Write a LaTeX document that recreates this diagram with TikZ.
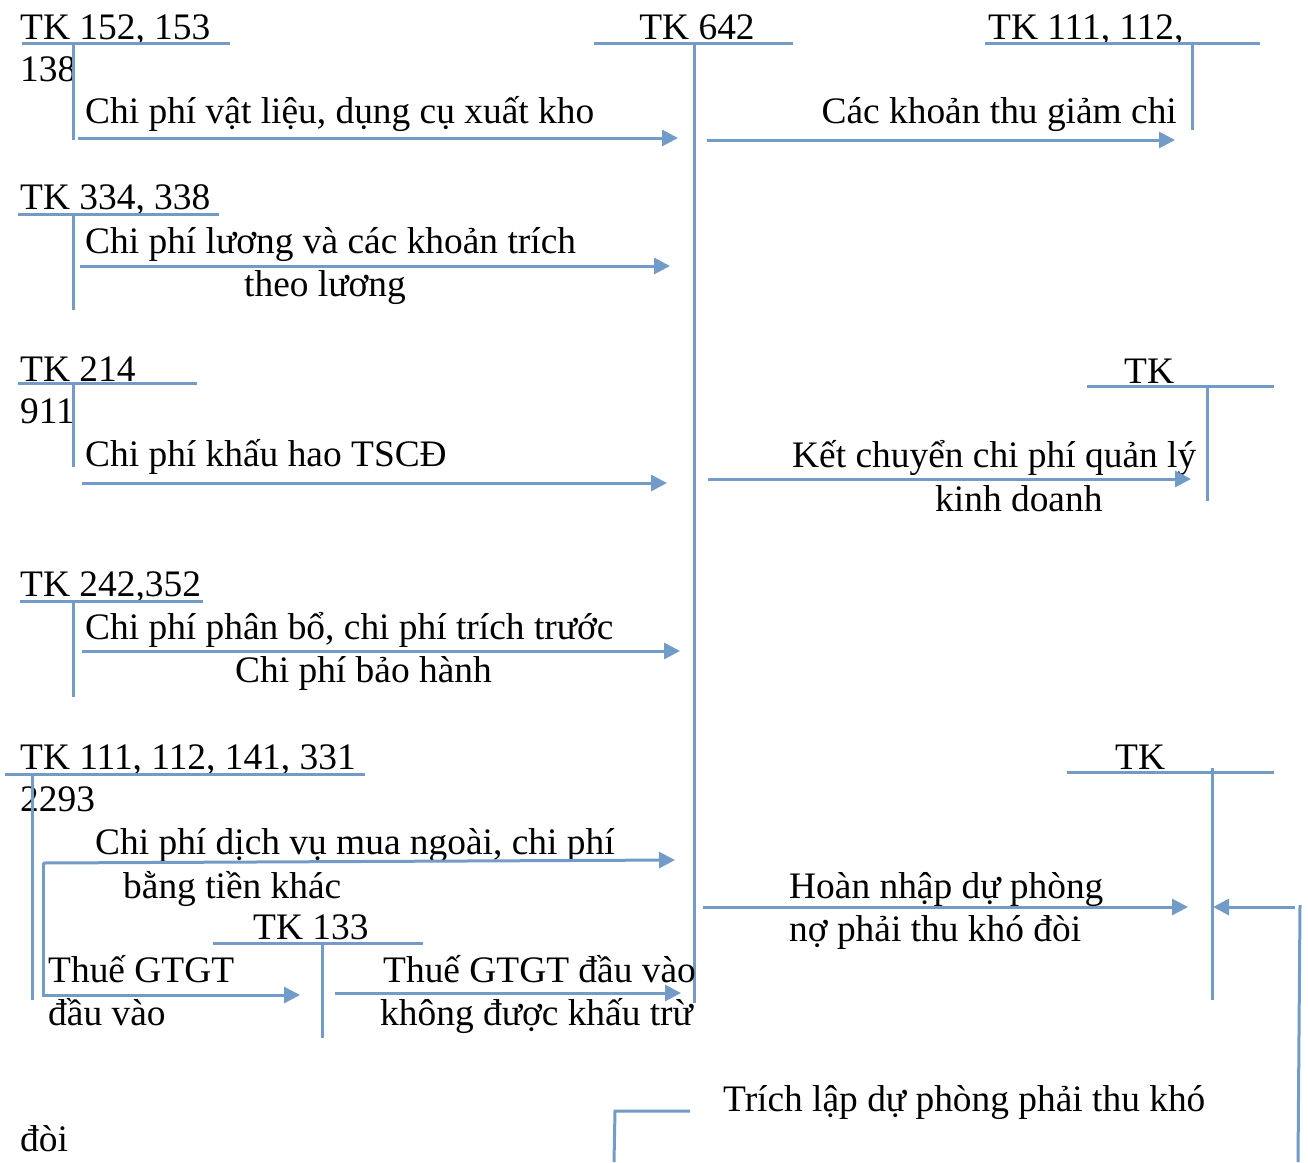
\documentclass[tikz,border=0pt]{standalone}
\usepackage{fontspec}
\setmainfont{Liberation Serif}
\usetikzlibrary{arrows.meta}
\definecolor{acc}{RGB}{114,155,199}
\begin{document}
\begin{tikzpicture}[x=1pt,y=-1pt,
  lbl/.style={anchor=base west,inner sep=0pt,font=\fontsize{37.4}{44}\selectfont},
  tline/.style={draw=acc,line width=3pt},
  flow/.style={draw=acc,line width=3pt,-{Triangle[length=16pt,width=16pt]}}]
\useasboundingbox (0,0) rectangle (1308,1162);

% ---- TK 152, 153 / 138
\node[lbl] (a1) at (20,39) {TK 152, 153};
\node[lbl] (a1b) at (20,81) {138};
\draw[tline] (22,43) -- (230,43);
\draw[tline] (73,43) -- (73,140);
\node[lbl] (t1) at (85,123) {Chi phí vật liệu, dụng cụ xuất kho};
\coordinate (s1) at (78,138); \coordinate (e1) at (678,138);
\draw[flow] (s1) -- (e1);

% ---- TK 642
\node[lbl,anchor=base] (m) at (697,39) {TK 642};
\draw[tline] (594,43) -- (793,43);
\draw[tline] (694,43) -- (694,1003);

% ---- TK 111, 112, (right)
\node[lbl] (r1) at (988,39) {TK 111, 112,};
\draw[tline] (985,43) -- (1260,43);
\draw[tline] (1192,43) -- (1192,130);
\node[lbl,anchor=base east] (tr1) at (1177,123) {Các khoản thu giảm chi};
\coordinate (s2) at (707,140); \coordinate (e2) at (1175,140);
\draw[flow] (s2) -- (e2);

% ---- TK 334, 338
\node[lbl] (a2) at (20,209) {TK 334, 338};
\draw[tline] (18,214) -- (219,214);
\draw[tline] (73,214) -- (73,310);
\node[lbl] (t2) at (85,253) {Chi phí lương và các khoản trích};
\node[lbl] (t2b) at (244,296) {theo lương};
\coordinate (s3) at (80,266); \coordinate (e3) at (670,266);
\draw[flow] (s3) -- (e3);

% ---- TK 214 / 911
\node[lbl] (a3) at (20,381) {TK 214};
\node[lbl] (a3b) at (20,423) {911};
\draw[tline] (18,383) -- (197,383);
\draw[tline] (73,383) -- (73,467);
\node[lbl] (t3) at (85,466) {Chi phí khấu hao TSCĐ};
\coordinate (s4) at (82,483); \coordinate (e4) at (667,483);
\draw[flow] (s4) -- (e4);

% ---- TK (911, right)
\node[lbl] (r2) at (1124,383) {TK};
\draw[tline] (1087,386) -- (1274,386);
\draw[tline] (1207,386) -- (1207,501);
\node[lbl] (tr2) at (792,467) {Kết chuyển chi phí quản lý};
\node[lbl] (tr2b) at (935,511) {kinh doanh};
\coordinate (s5) at (708,479); \coordinate (e5) at (1191,479);
\draw[flow] (s5) -- (e5);

% ---- TK 242,352
\node[lbl] (a4) at (20,596) {TK 242,352};
\draw[tline] (20,601) -- (203,601);
\draw[tline] (73,601) -- (73,697);
\node[lbl] (t4) at (85,639) {Chi phí phân bổ, chi phí trích trước};
\node[lbl] (t4b) at (235,682) {Chi phí bảo hành};
\coordinate (s6) at (82,651); \coordinate (e6) at (680,651);
\draw[flow] (s6) -- (e6);

% ---- TK 111, 112, 141, 331 / 2293
\node[lbl] (a5) at (20,769) {TK 111, 112, 141, 331};
\node[lbl] (a5b) at (20,811) {2293};
\draw[tline] (5,774) -- (365,774);
\draw[tline] (32,774) -- (32,1000);
\node[lbl] (t5) at (95,854) {Chi phí dịch vụ mua ngoài, chi phí};
\node[lbl] (t5b) at (123,898) {bằng tiền khác};
\coordinate (s7) at (43,863); \coordinate (e7) at (675,860);
\coordinate (e8) at (300,995);
\draw[flow] (s7) -- (e7);
\draw[flow] (s7) -- (43,995) -- (e8);

% ---- TK 133
\node[lbl] (b1) at (253,939) {TK 133};
\draw[tline] (213,943) -- (423,943);
\draw[tline] (322,943) -- (322,1038);
\node[lbl] (t6) at (48,982) {Thuế GTGT};
\node[lbl] (t6b) at (48,1025) {đầu vào};
\node[lbl] (t7) at (383,982) {Thuế GTGT đầu vào};
\node[lbl] (t7b) at (380,1025) {không được khấu trừ};
\coordinate (s9) at (335,993); \coordinate (e9) at (681,993);
\draw[flow] (s9) -- (e9);

% ---- TK (2293, right)
\node[lbl] (r3) at (1115,769) {TK};
\draw[tline] (1067,772) -- (1274,772);
\draw[tline] (1212,768) -- (1212,1000);
\node[lbl] (tr3) at (789,898) {Hoàn nhập dự phòng};
\node[lbl] (tr3b) at (789,941) {nợ phải thu khó đòi};
\coordinate (s10) at (703,907); \coordinate (e10) at (1188,907);
\draw[flow] (s10) -- (e10);
\coordinate (s11) at (1295,907); \coordinate (e11) at (1213,907);
\draw[flow] (s11) -- (e11);
\draw[tline] (1300,905) -- (1298,1162);

% ---- bottom
\node[lbl] (tb) at (723,1111) {Trích lập dự phòng phải thu khó};
\node[lbl] (tbb) at (20,1151) {đòi};
\draw[tline] (690,1111) -- (615,1111) -- (614,1162);
\end{tikzpicture}
\end{document}
